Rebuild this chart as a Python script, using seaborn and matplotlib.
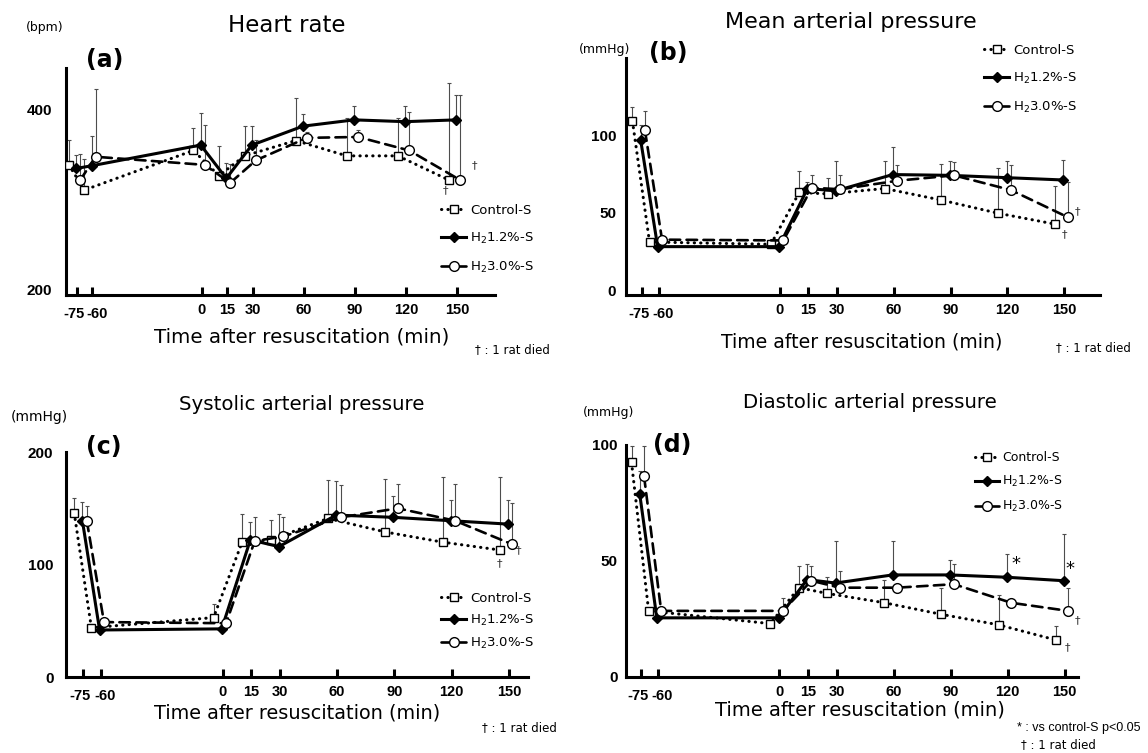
import numpy as np
import pandas as pd
import seaborn as sns
import matplotlib.pyplot as plt
from matplotlib.transforms import ScaledTranslation

plt.rcParams["font.family"] = ["DejaVu Sans"]
plt.rcParams["mathtext.fontset"] = "dejavusans"

# time points (min after resuscitation) and their tick labels
times = [-75, -60, 0, 15, 30, 60, 90, 120, 150]
time_labels = ["-75", "-60", "0", "15", "30", "60", "90", "120", "150"]
group_names = ["Control-S", r"H$_\mathregular{2}$1.2%-S", r"H$_\mathregular{2}$3.0%-S"]

# (a) heart rate (bpm): mean and upper error bar
hr_ctrl = [339, 311, 355, 327, 349, 366, 349, 349, 322]
hr_ctrl_sd = [28, 35, 25, 33, 33, 47, 42, 42, 108]
hr_h12 = [335, 338, 361, 324, 361, 382, 389, 387, 389]
hr_h12_sd = [15, 33, 36, 17, 21, 14, 15, 17, 28]
hr_h30 = [322, 348, 339, 319, 344, 369, 370, 355, 322]
hr_h30_sd = [29, 75, 44, 21, 23, 7, 8, 43, 95]

# (b) mean arterial pressure (mmHg)
map_ctrl = [109, 31, 29.5, 63, 62, 65.5, 58, 49.5, 42.5]
map_ctrl_sd = [9, 2, 2, 14, 10.5, 17.5, 23, 29.5, 24.5]
map_h12 = [97, 28, 28, 65.5, 64, 74.5, 74, 72.5, 71]
map_h12_sd = [9.5, 2, 2, 4.5, 19, 18, 9, 10.5, 13]
map_h30 = [103, 32.5, 32, 66, 65, 70.5, 74, 64.5, 47]
map_h30_sd = [12.5, 2, 2, 8.5, 9, 10, 8.5, 16, 23]

# (c) systolic arterial pressure (mmHg)
sap_ctrl = [146, 44, 53, 120, 122, 141, 129, 120, 113]
sap_ctrl_sd = [13, 3, 12, 25, 18, 34, 47, 58, 65]
sap_h12 = [139, 42, 43, 122, 116, 144, 142, 139, 136]
sap_h12_sd = [17, 3, 3, 16, 29, 30, 19, 18, 21]
sap_h30 = [139, 49, 48, 121, 125, 142, 150, 139, 118]
sap_h30_sd = [13, 3, 3, 21, 17, 29, 22, 33, 37]

# (d) diastolic arterial pressure (mmHg)
dap_ctrl = [92.5, 28.5, 23, 38.5, 36, 32, 27, 22.5, 16]
dap_ctrl_sd = [7, 1, 1, 9.5, 7, 10, 11.5, 13, 6]
dap_h12 = [79, 25.5, 25.5, 42, 40.5, 44, 44, 43, 41.5]
dap_h12_sd = [10, 1, 1, 6.5, 18, 14.5, 6.5, 10, 20]
dap_h30 = [86.5, 28.5, 28.5, 41.5, 38.5, 38.5, 40, 32, 28.5]
dap_h30_sd = [13, 1, 5.5, 6.5, 7, 1, 8.5, 1, 10]

# "1 rat died" daggers and significance stars (time, value)
hr_dagger = [(143, 311), (160, 339)]
map_dagger = [(157, 51), (150, 36)]
sap_dagger = [(155, 113), (145, 101.5)]
dap_dagger = [(156.5, 24.6), (151.3, 13)]
dap_star = [(124.5, 48.5), (153, 46.5)]

W, H = 1148, 753
fig = plt.figure(figsize=(W / 100, H / 100), dpi=100)


def px_rect(l, t, r, b):
    return [l / W, 1 - b / H, (r - l) / W, (b - t) / H]


def ftext(x, y, s, **kw):
    fig.text(x / W, 1 - y / H, s, **kw)


# broken time axis: the pre-resuscitation part is squeezed
anchor_t = [-1e6, -75, -60, 0, 1e6]
anchor_p = [-1e6 + 2, -73, -64, 0, 1e6]


def fwd(t):
    return np.interp(t, anchor_t, anchor_p)


def inv(p):
    return np.interp(p, anchor_p, anchor_t)


series_style = [
    dict(marker="s", markersize=6.2, markerfacecolor="white", linestyle=(0, (0.1, 2.0)),
         linewidth=2.2, off=-4.8, z=3),
    dict(marker="D", markersize=5, markerfacecolor="black", linestyle="-",
         linewidth=2.2, off=-0.5, z=4),
    dict(marker="o", markersize=7, markerfacecolor="white", linestyle=(0, (4, 2.4)),
         linewidth=1.9, off=1.8, z=5),
]

panels = [
    dict(means=[hr_ctrl, hr_h12, hr_h30], sds=[hr_ctrl_sd, hr_h12_sd, hr_h30_sd],
         rect=(65.7, 68.3, 494.8, 295), xlim=(-81.7, 172), ylim=(194.4, 446.3),
         yticks=[200, 400], ypad=10,
         title="Heart rate", title_xy=(287, 25), title_fs=16.5,
         letter="(a)", letter_xy=(86, 60), unit="(bpm)", unit_xy=(26, 27), unit_fs=9,
         xlabel_xy=(302, 337), xlabel_fs=14.3,
         leg_xy=(441, 204), leg_sp=1.05, leg_fs=9.5,
         notes=[("† : 1 rat died", 475, 350, 8.5, "DejaVu Sans")],
         daggers=hr_dagger, stars=[]),
    dict(means=[map_ctrl, map_h12, map_h30], sds=[map_ctrl_sd, map_h12_sd, map_h30_sd],
         rect=(626, 58.3, 1100, 295), xlim=(-83.2, 168.8), ylim=(-3.2, 149.5),
         yticks=[0, 50, 100], ypad=7,
         title="Mean arterial pressure", title_xy=(851, 22), title_fs=16,
         letter="(b)", letter_xy=(649, 53), unit="(mmHg)", unit_xy=(579, 49), unit_fs=9,
         xlabel_xy=(862, 342), xlabel_fs=13.6,
         leg_xy=(984, 44), leg_sp=1.05, leg_fs=9.5,
         notes=[("† : 1 rat died", 1056, 348, 8.5, "DejaVu Sans")],
         daggers=map_dagger, stars=[]),
    dict(means=[sap_ctrl, sap_h12, sap_h30], sds=[sap_ctrl_sd, sap_h12_sd, sap_h30_sd],
         rect=(66, 452, 528, 677.3), xlim=(-84.1, 160), ylim=(0, 200),
         yticks=[0, 100, 200], ypad=9,
         title="Systolic arterial pressure", title_xy=(302, 405), title_fs=14.2,
         letter="(c)", letter_xy=(86, 447), unit="(mmHg)", unit_xy=(11, 417), unit_fs=10,
         xlabel_xy=(297, 713), xlabel_fs=13.9,
         leg_xy=(441, 592), leg_sp=0.6, leg_fs=9.5,
         notes=[("† : 1 rat died", 482, 728, 8.5, "DejaVu Sans")],
         daggers=sap_dagger, stars=[]),
    dict(means=[dap_ctrl, dap_h12, dap_h30], sds=[dap_ctrl_sd, dap_h12_sd, dap_h30_sd],
         rect=(626, 445, 1078, 677), xlim=(-82.7, 157), ylim=(0, 100),
         yticks=[0, 50, 100], ypad=6,
         title="Diastolic arterial pressure", title_xy=(870, 402), title_fs=14.2,
         letter="(d)", letter_xy=(653, 445), unit="(mmHg)", unit_xy=(583, 413), unit_fs=9,
         xlabel_xy=(860, 710), xlabel_fs=14,
         leg_xy=(975, 451), leg_sp=0.8, leg_fs=9,
         notes=[("* : vs control-S p<0.05", 1017, 728, 9, "Liberation Sans"),
                ("† : 1 rat died", 1021, 745, 8.5, "DejaVu Sans")],
         daggers=dap_dagger, stars=dap_star),
]

for p in panels:
    ax = fig.add_axes(px_rect(*p["rect"]))
    ax.set_xscale("function", functions=(fwd, inv))

    long = pd.DataFrame({
        "time": np.tile(times, 3),
        "group": np.repeat(group_names, len(times)),
        "mean": np.concatenate(p["means"]),
        "sd": np.concatenate(p["sds"]),
    })

    handles = []
    for g, st in zip(group_names, series_style):
        sub = long[long["group"] == g]
        xs = inv(fwd(sub["time"].to_numpy(float)) + st["off"])
        ax.errorbar(xs, sub["mean"], yerr=[np.zeros(len(sub)), sub["sd"].to_numpy()],
                    fmt="none", ecolor="#4d4d4d", elinewidth=0.8, capsize=1.4,
                    capthick=0.8, zorder=1.5)
        sns.lineplot(x=xs, y=sub["mean"].to_numpy(), ax=ax, color="black",
                     linewidth=st["linewidth"], linestyle=st["linestyle"],
                     dash_capstyle="round", marker=st["marker"],
                     markersize=st["markersize"], markerfacecolor=st["markerfacecolor"],
                     markeredgecolor="black", markeredgewidth=1.0,
                     sort=False, legend=False, label=g, zorder=st["z"])
        handles.append(ax.lines[-1])

    for (tx, ty) in p["daggers"]:
        ax.text(tx, ty, "†", fontsize=8, ha="center", va="center", color="#333333")
    for (tx, ty) in p["stars"]:
        ax.text(tx, ty, "*", fontsize=13, ha="center", va="center", color="black")

    ax.set_xlim(*p["xlim"])
    ax.set_ylim(*p["ylim"])
    ax.set_xticks(times)
    ax.set_xticklabels(time_labels, fontfamily=["Liberation Sans", "DejaVu Sans"],
                       fontweight="bold", fontsize=10.5)
    ax.set_yticks(p["yticks"])
    ax.set_yticklabels([str(v) for v in p["yticks"]],
                       fontfamily=["Liberation Sans", "DejaVu Sans"],
                       fontweight="bold", fontsize=11)
    ax.xaxis.set_minor_locator(plt.NullLocator())
    ax.tick_params(axis="x", direction="in", length=6, width=2.2, pad=5.5)
    ax.tick_params(axis="y", length=0, pad=p["ypad"])
    for lbl in ax.get_xticklabels():
        if lbl.get_text() == "-60":
            lbl.set_transform(lbl.get_transform() + ScaledTranslation(0.045, -0.04, fig.dpi_scale_trans))
        elif lbl.get_text() == "-75":
            lbl.set_transform(lbl.get_transform() + ScaledTranslation(-0.03, -0.04, fig.dpi_scale_trans))

    for side in ["top", "right"]:
        ax.spines[side].set_visible(False)
    for side in ["left", "bottom"]:
        ax.spines[side].set_linewidth(2.2)
    ax.set_xlabel("")
    ax.set_ylabel("")
    ax.patch.set_alpha(0)

    lx, ly = p["leg_xy"]
    ax.legend(handles, group_names, loc="upper left",
              bbox_to_anchor=(lx / W, 1 - ly / H), bbox_transform=fig.transFigure,
              frameon=False, fontsize=p["leg_fs"], handlelength=1.9, handletextpad=0.3,
              labelspacing=p["leg_sp"], borderpad=0, borderaxespad=0)

    ftext(*p["title_xy"], p["title"], fontsize=p["title_fs"], ha="center", va="center")
    ftext(*p["letter_xy"], p["letter"], fontsize=17, fontweight="bold", ha="left", va="center")
    ftext(*p["unit_xy"], p["unit"], fontsize=p["unit_fs"], ha="left", va="center")
    ftext(*p["xlabel_xy"], "Time after resuscitation (min)", fontsize=p["xlabel_fs"],
          ha="center", va="center")
    for (s, nx, ny, fs, fam) in p["notes"]:
        ftext(nx, ny, s, fontsize=fs, ha="left", va="center", fontfamily=[fam, "DejaVu Sans"])

fig.savefig("out.png", dpi=100)
